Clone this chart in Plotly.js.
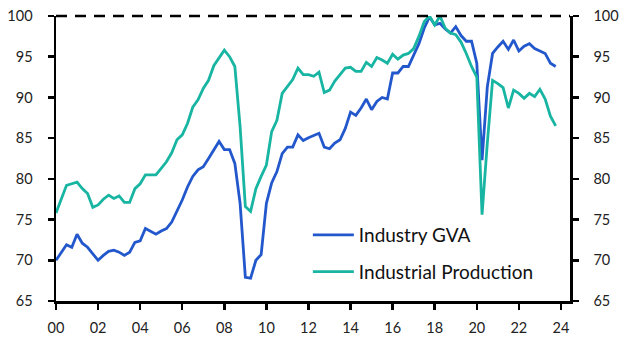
<!DOCTYPE html>
<html>
<head>
<meta charset="utf-8">
<script src="https://cdn.plot.ly/plotly-3.0.1.min.js"></script>
<style>
html,body{margin:0;padding:0;background:#fff;}
#chart{width:634px;height:354px;}
</style>
</head>
<body>
<div id="chart"></div>
<script>
// Quarterly dates (decimal years, Q1 2000 .. Q4 2023)
const quarters = [];
for (let y = 2000; y <= 2023; y++) { for (let q = 0; q < 4; q++) quarters.push(y + q / 4); }

const industryGVA = [
  70.0, 71.0, 71.9, 71.6,   73.2, 72.1, 71.6, 70.8,
  70.0, 70.6, 71.1, 71.25,  71.0, 70.6, 71.0, 72.2,
  72.4, 73.9, 73.6, 73.2,   73.6, 73.9, 74.7, 76.0,
  77.4, 79.0, 80.3, 81.1,   81.5, 82.5, 83.6, 84.6,
  83.6, 83.6, 81.9, 77.0,   67.9, 67.8, 70.0, 70.7,
  77.0, 79.5, 80.9, 83.1,   83.9, 83.9, 85.4, 84.7,
  85.05, 85.3, 85.6, 83.9,  83.7, 84.4, 84.8, 86.2,
  88.2, 87.8, 88.7, 89.8,   88.5, 89.5, 90.0, 89.8,
  93.0, 93.0, 93.8, 93.8,   95.2, 96.6, 98.5, 99.9,
  98.9, 99.1, 98.4, 97.9,   98.7, 97.6, 96.9, 96.9,
  94.2, 82.3, 91.3, 95.4,   96.2, 96.9, 95.9, 97.05,
  95.7, 96.3, 96.6, 96.0,   95.7, 95.4, 94.2, 93.8
];

const industrialProduction = [
  75.8, 77.6, 79.2, 79.4,   79.6, 78.8, 78.2, 76.5,
  76.8, 77.5, 78.0, 77.6,   77.9, 77.1, 77.1, 78.8,
  79.4, 80.5, 80.5, 80.5,   81.3, 82.1, 83.2, 84.8,
  85.4, 86.8, 88.8, 89.7,   91.1, 92.1, 93.9, 94.8,
  95.8, 95.0, 93.8, 86.4,   76.6, 76.0, 78.8, 80.3,
  81.7, 85.8, 87.2, 90.5,   91.3, 92.2, 93.6, 92.8,
  92.8, 92.6, 93.1, 90.6,   90.9, 92.0, 92.8, 93.6,
  93.7, 93.2, 93.2, 94.3,   93.8, 94.9, 94.6, 94.2,
  95.3, 94.7, 95.2, 95.4,   96.0, 97.5, 99.3, 100.0,
  98.9, 100.0, 98.5, 97.9,  97.7, 96.8, 95.4, 93.8,
  92.5, 75.6, 84.4, 92.1,   91.7, 91.2, 88.7, 90.9,
  90.5, 89.9, 90.5, 90.1,   91.0, 89.8, 87.7, 86.5
];

const seriesNames = ["Industry GVA", "Industrial Production"];
const xTickVals = [2000, 2002, 2004, 2006, 2008, 2010, 2012, 2014, 2016, 2018, 2020, 2022, 2024];
const xTickText = ["00", "02", "04", "06", "08", "10", "12", "14", "16", "18", "20", "22", "24"];
const yTickVals = [65, 70, 75, 80, 85, 90, 95, 100];
const yRange = [65, 100];

const BLUE = "#2357cc";
const TEAL = "#18b5a2";
const FONT = "Lato, 'Open Sans', sans-serif";

const traces = [
  { x: quarters, y: industryGVA, name: seriesNames[0], type: "scatter", mode: "lines",
    line: { color: BLUE, width: 2.8 }, legendgroup: "a", yaxis: "y", hoverinfo: "skip" },
  { x: quarters, y: industrialProduction, name: seriesNames[1], type: "scatter", mode: "lines",
    line: { color: TEAL, width: 2.8 }, legendgroup: "b", yaxis: "y2", hoverinfo: "skip" }
];

const yCommon = {
  range: yRange, tickvals: yTickVals, ticks: "outside", ticklen: 6, tickwidth: 2.5,
  tickcolor: "#000", showline: true, linecolor: "#000", linewidth: 2.5, showgrid: false,
  zeroline: false, tickfont: { family: FONT, size: 14.5, color: "#222" }, fixedrange: true,
  ticklabelstandoff: 12
};

const layout = {
  width: 634, height: 354,
  margin: { l: 56, r: 64, t: 16, b: 53 },
  paper_bgcolor: "#fff", plot_bgcolor: "#fff",
  showlegend: true,
  legend: { x: 0.49, y: 0.298, xanchor: "left", yanchor: "top", bgcolor: "rgba(0,0,0,0)",
    font: { family: FONT, size: 19, color: "#111" }, tracegroupgap: 9, itemwidth: 41 },
  xaxis: {
    range: [2000, 2024.43], tickvals: xTickVals, ticktext: xTickText, ticks: "outside",
    ticklen: 6, tickwidth: 2.5, tickcolor: "#000", showline: true, linecolor: "#000",
    linewidth: 2.5, showgrid: false, zeroline: false, ticklabelstandoff: 6,
    tickfont: { family: FONT, size: 14.5, color: "#222" }, fixedrange: true
  },
  yaxis: Object.assign({}, yCommon, { side: "left" }),
  yaxis2: Object.assign({}, yCommon, { side: "right", overlaying: "y" }),
  shapes: [{
    type: "line", xref: "paper", x0: 0, x1: 1, yref: "paper", y0: 1, y1: 1,
    line: { color: "#000", width: 2.5, dash: "11px,8px" }
  }]
};

Plotly.newPlot("chart", traces, layout, { staticPlot: true, displayModeBar: false });
</script>
</body>
</html>
